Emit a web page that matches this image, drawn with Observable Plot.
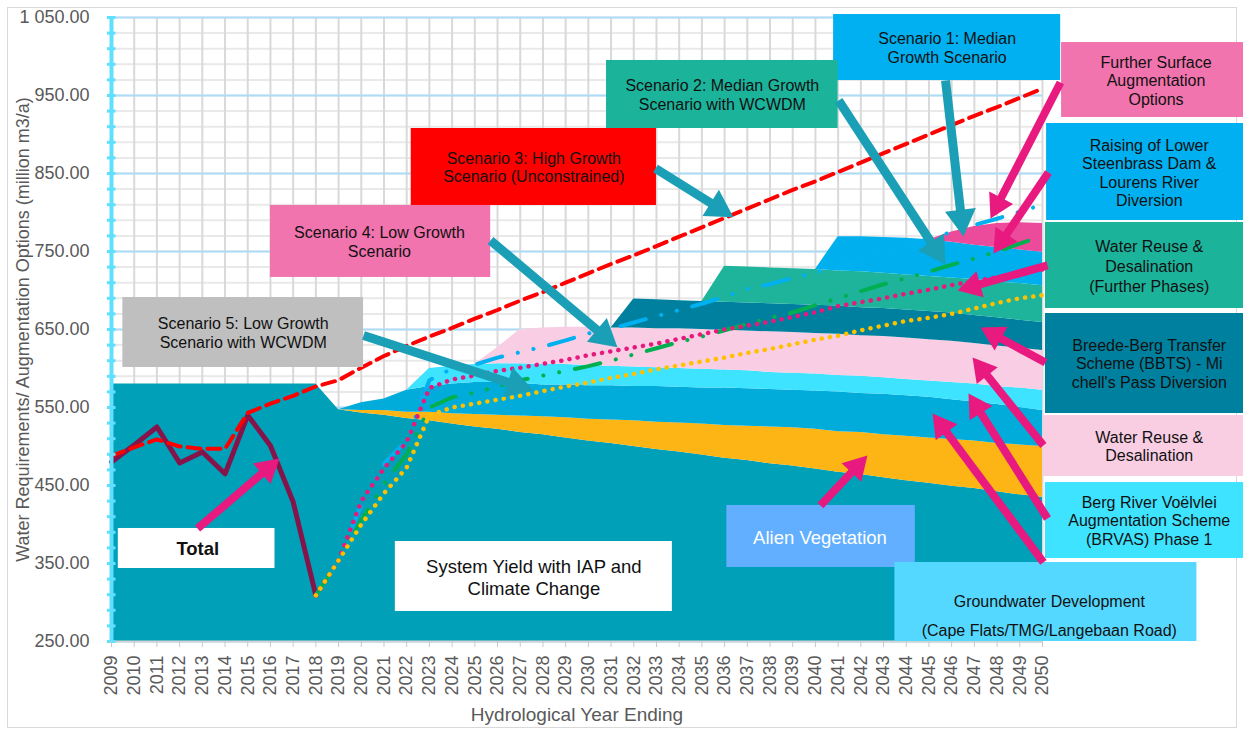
<!DOCTYPE html>
<html><head><meta charset="utf-8">
<script src="https://cdn.jsdelivr.net/npm/d3@7"></script>
<script src="https://cdn.jsdelivr.net/npm/@observablehq/plot@0.6"></script>
<style>
html,body{margin:0;padding:0;background:#fff;}
#wrap{position:relative;width:1243px;height:734px;overflow:hidden;}
#border{position:absolute;left:7px;top:7px;width:1228px;height:719px;border:1px solid #d9d9d9;}
#chart{position:absolute;left:0;top:0;}
</style></head>
<body><div id="wrap"><div id="border"></div><div id="chart"></div></div>
<script>
// ---------- DATA ----------
const years = [2009,2010,2011,2012,2013,2014,2015,2016,2017,2018,2019,2020,2021,2022,2023,2024,2025,2026,2027,2028,2029,2030,2031,2032,2033,2034,2035,2036,2037,2038,2039,2040,2041,2042,2043,2044,2045,2046,2047,2048,2049,2050];

const layerNames = [
  "System Yield with IAP and Climate Change",
  "Alien Vegetation",
  "Groundwater Development",
  "Berg River Voëlvlei Augmentation Scheme (BRVAS) Phase 1",
  "Water Reuse & Desalination",
  "Breede-Berg Transfer Scheme (BBTS)",
  "Water Reuse & Desalination (Further Phases)",
  "Raising of Lower Steenbrass Dam & Lourens River Diversion",
  "Further Surface Augmentation Options"
];
const layerColors = ["#00A0B8","#FDB515","#02ACDA","#3DE3FF","#F9CDE3","#00809F","#1EB39B","#00B0EE","#EC4A9A"];

// stacked layer thicknesses, 2009..2050
const systemYield    = [580,580,580,580,580,580,580,580,580,580, 547,543,540,536,533,529,525,522,518,515,511,507,504,500,496,493,489,485,482,478,475,471,467,464,460,456,453,449,446,442,438,435];
const alienVegetation= [0,0,0,0,0,0,0,0,0,0, 0,3,6,8,11,13,16,18,21,23,26,28,30,33,35,37,40,42,44,47,49,51,52,54,55,57,58,60,61,62,64,65];
const groundwater    = [0,0,0,0,0,0,0,0,0,0, 0,10,15,28,33,38,41,42,42,41,42,43,44,44,46,46,46,48,48,48,48,49,51,50,52,52,52,51,50,50,48,46];
const brvas          = [0,0,0,0,0,0,0,0,0,0, 0,0,0,0,23,23,23,24,25,26,26,26,25,25,24,24,24,23,23,22,22,22,21,22,21,21,21,22,23,23,25,26];
const reuseDesal     = [0,0,0,0,0,0,0,0,0,0, 0,0,0,0,0,0,0,21,44,47,48,49,49,50,50,51,51,51,51,52,52,52,53,52,53,53,53,53,52,52,51,51];
const bbts           = [0,0,0,0,0,0,0,0,0,0, 0,0,0,0,0,0,0,0,0,0,0,0,0,37,37,36,36,36,36,36,36,36,36,36,36,36,36,36,36,36,36,36];
const reuseFurther   = [0,0,0,0,0,0,0,0,0,0, 0,0,0,0,0,0,0,0,0,0,0,0,0,0,0,0,0,46,46,46,46,46,45,46,45,45,45,45,46,46,47,47];
const steenbras      = [0,0,0,0,0,0,0,0,0,0, 0,0,0,0,0,0,0,0,0,0,0,0,0,0,0,0,0,0,0,0,0,0,44,45,46,47,47,46,44,44,43,43];
const furtherSurface = [0,0,0,0,0,0,0,0,0,0, 0,0,0,0,0,0,0,0,0,0,0,0,0,0,0,0,0,0,0,0,0,0,0,0,0,0,0,13,24,31,35,37];
const layerValues = [systemYield, alienVegetation, groundwater, brvas, reuseDesal, bbts, reuseFurther, steenbras, furtherSurface];

// lines
const totalStart = 2009;
const totalValues = [480,502,525,479,493,465,540,501,429,309];
const scenario3Start = 2009; // High Growth (Unconstrained)
const scenario3 = [488,499,509,500,497,497,543,555,565,577,585,601,616,629,641,652,664,675,687,698,710,722,734,745,757,769,781,793,805,817,829,840,852,864,876,888,900,912,924,935,947,959];
const scenarioStart = 2018;
const scenario1 = [309,354,425,478,508,585,600,605,614,621,628,636,645,651,659,667,675,683,692,702,708,716,723,731,740,749,757,766,775,784,792,801,810];
const scenario2 = [309,354,405,452,490,550,563,569,577,585,591,597,603,610,618,626,634,641,649,657,665,672,681,690,699,708,716,724,733,741,750,760,770];
const scenario4 = [309,354,430,472,506,575,586,591,597,601,606,611,617,622,627,632,638,644,650,655,660,666,672,680,685,690,696,701,707,712,717,722,727];
const scenario5 = [309,354,400,440,473,540,550,555,560,565,571,577,582,588,593,599,604,609,614,620,625,631,637,642,649,655,661,665,670,677,684,690,694];

const yTicks = [250,350,450,550,650,750,850,950,1050];
const yTitle = "Water Requirements/ Augmentation Options (million m3/a)";
const xTitle = "Hydrological Year Ending";

// annotation boxes (data coordinates: year / million m3/a)
const annotBoxes = [
  {text:"Scenario 1: Median\nGrowth Scenario", x1:2040.8, x2:2050.8, y1:969.2, y2:1053.8, tx:2045.8, ty:1011.5, bg:"#00B0F0"},
  {text:"Scenario 2: Median Growth\nScenario with WCWDM", x1:2030.8, x2:2041.0, y1:907.7, y2:994.9, tx:2035.9, ty:951.3, bg:"#1CB39B"},
  {text:"Scenario 3: High Growth\nScenario (Unconstrained)", x1:2022.2, x2:2033.0, y1:809, y2:907.7, tx:2027.6, ty:858.3, bg:"#FF0000"},
  {text:"Scenario 4: Low Growth\nScenario", x1:2016.0, x2:2025.7, y1:716.7, y2:809, tx:2020.8, ty:762.8, bg:"#F274AE"},
  {text:"Scenario 5: Low Growth\nScenario with WCWDM", x1:2009.5, x2:2020.1, y1:601.3, y2:691, tx:2014.8, ty:646.2, bg:"#BFBFBF"},
  {text:"Total", x1:2009.3, x2:2016.2, y1:343.6, y2:394.9, tx:2012.8, ty:369.2, bg:"#FFFFFF", size:18.5, weight:"bold"},
  {text:"System Yield with IAP and\nClimate Change", x1:2021.5, x2:2033.7, y1:288.5, y2:378.2, tx:2027.6, ty:332.5, bg:"#FFFFFF", size:18.5, lh:1.2},
  {text:"Alien Vegetation", x1:2036.1, x2:2044.4, y1:344.9, y2:424.4, tx:2040.2, ty:383.5, bg:"#62AFFF", fg:"#FFFFFF", size:18.5},
  {text:"Groundwater Development\n(Cape Flats/TMG/Langebaan Road)", x1:2043.5, x2:2056.8, y1:250, y2:351.3, tx:2050.3, ty:287.8, bg:"#55D8FF", size:16, lh:1.8},
  {text:"Further Surface\nAugmentation\nOptions", x1:2050.84, x2:2058.9, y1:921.8, y2:1017.9, tx:2055.0, ty:969.2, bg:"#F274AE"},
  {text:"Raising of Lower\nSteenbrass Dam &\nLourens River\nDiversion", x1:2050.18, x2:2058.9, y1:789.7, y2:914.1, tx:2054.7, ty:851.3, bg:"#00B0F0"},
  {text:"Water Reuse &\nDesalination\n(Further Phases)", x1:2050.13, x2:2058.9, y1:676.9, y2:787.2, tx:2054.7, ty:732.1, bg:"#1CB39B", lh:1.25},
  {text:"Breede-Berg Transfer\nScheme (BBTS) - Mi\nchell's Pass Diversion", x1:2050.13, x2:2058.9, y1:542.3, y2:670.5, tx:2054.7, ty:606.4, bg:"#00809F"},
  {text:"Water Reuse &\nDesalination", x1:2050.04, x2:2058.9, y1:461.5, y2:539.7, tx:2054.7, ty:500.6, bg:"#F9CEE3"},
  {text:"Berg River Voëlvlei\nAugmentation Scheme\n(BRVAS) Phase 1", x1:2050.13, x2:2058.9, y1:356.4, y2:453.8, tx:2054.7, ty:405.1, bg:"#3DE3FF"}
];

// arrows (from -> tip), data coordinates
const tealArrows = [
  {x1:2045.73, y1:969.2, x2:2046.52, y2:769.2},
  {x1:2041.02, y1:943.6, x2:2045.73, y2:733.3},
  {x1:2032.96, y1:856.4, x2:2036.39, y2:794.0},
  {x1:2025.69, y1:764.1, x2:2031.28, y2:627.3},
  {x1:2020.10, y1:642.3, x2:2027.58, y2:571.8}
];
const pinkArrows = [
  {x1:2050.79, y1:966.7, x2:2047.71, y2:792.3},
  {x1:2050.26, y1:851.3, x2:2047.84, y2:747.4},
  {x1:2050.22, y1:732.1, x2:2046.26, y2:700.0},
  {x1:2050.13, y1:607.7, x2:2047.27, y2:652.6},
  {x1:2050.04, y1:501.3, x2:2046.92, y2:614.1},
  {x1:2050.22, y1:407.7, x2:2046.74, y2:568.0},
  {x1:2050.04, y1:351.3, x2:2045.16, y2:542.3},
  {x1:2040.22, y1:424.4, x2:2042.29, y2:488.5},
  {x1:2012.79, y1:394.9, x2:2016.40, y2:484.6}
];

// ---------- LAYOUT ----------
const W = 1243, H = 734, ML = 111, MR = 201, MT = 17, MB = 93;
const FONT = "'Liberation Sans', Arial, Helvetica, sans-serif";
const GREY = "#595959";

const stackData = layerNames.flatMap((name, i) => years.map((yr, j) => ({year: yr, layer: name, value: layerValues[i][j]})));
const series = (start, vals) => vals.map((v, i) => ({year: start + i, value: v}));

const minorVals = d3.range(250, 1051, 20);
const fmt = d3.formatLocale({decimal: ".", thousands: " ", grouping: [3], currency: ["", ""]}).format(",.2f");

// scales for arrow-head geometry
const sx = Plot.scale({x: {type: "linear", domain: [2009, 2050], range: [ML, W - MR]}});
const sy = Plot.scale({y: {type: "linear", domain: [250, 1050], range: [H - MB, MT]}});
const invX = px => 2009 + (px - ML) / (W - MR - ML) * 41;
const invY = py => 250 + (H - MB - py) / (H - MB - MT) * 800;
function withHead(a, r) {
  const X1 = sx.apply(a.x1), Y1 = sy.apply(a.y1), X2 = sx.apply(a.x2), Y2 = sy.apply(a.y2);
  const dx = X2 - X1, dy = Y2 - Y1, L = Math.hypot(dx, dy);
  const yp = Math.sqrt(Math.PI * r * r / (3 * Math.sqrt(3)));
  const t = 2 * yp;
  return {...a, cx: invX(X2 - dx / L * t), cy: invY(Y2 - dy / L * t), angle: Math.atan2(dx, -dy) * 180 / Math.PI};
}
const TEAL = "#1A9FB6", PINK = "#E8197F";
const tealA = tealArrows.map(a => withHead(a, 11.5));
const pinkA = pinkArrows.map(a => withHead(a, 10));

const marks = [
  // grid
  Plot.ruleY(minorVals, {stroke: "#e9e9e9", strokeWidth: 2}),
  Plot.ruleX(years, {stroke: "#d9d9d9", strokeWidth: 2}),
  Plot.ruleY(yTicks, {stroke: "#addcf7", strokeWidth: 2}),
  // stacked areas
  Plot.areaY(stackData, {x: "year", y: "value", z: "layer", fill: "layer", clip: true}),
  // baseline
  Plot.ruleY([250], {stroke: "#d4d4d4", strokeWidth: 2}),
  // lines
  Plot.line(series(totalStart, totalValues), {x: "year", y: "value", stroke: "#85144B", strokeWidth: 5, strokeLinejoin: "round"}),
  Plot.line(series(scenario3Start, scenario3), {x: "year", y: "value", stroke: "#FF0000", strokeWidth: 4, strokeDasharray: "13,7"}),
  Plot.line(series(scenarioStart, scenario1), {x: "year", y: "value", stroke: "#00B0F0", strokeWidth: 4, strokeDasharray: "26,16,0.1,16,0.1,16", strokeLinecap: "round"}),
  Plot.line(series(scenarioStart, scenario2), {x: "year", y: "value", stroke: "#00B050", strokeWidth: 4, strokeDasharray: "26,16,0.1,16,0.1,16", strokeLinecap: "round"}),
  Plot.line(series(scenarioStart, scenario4), {x: "year", y: "value", stroke: "#E6197D", strokeWidth: 4.5, strokeDasharray: "0.1,8.2", strokeLinecap: "round"}),
  Plot.line(series(scenarioStart, scenario5), {x: "year", y: "value", stroke: "#FFC000", strokeWidth: 4.5, strokeDasharray: "0.1,8.2", strokeLinecap: "round"}),
  // y axis line + minor ticks
  Plot.ruleX([2009], {stroke: "#5FE0FF", strokeWidth: 4}),
  Plot.ruleY(minorVals, {x1: 2008.82, x2: 2009.2, stroke: "#5FE0FF", strokeWidth: 3}),
  // axes
  Plot.axisY({ticks: yTicks, tickFormat: fmt, tickSize: 0, tickPadding: 22, fontSize: 18, fill: GREY, label: null}),
  Plot.axisX({ticks: years, tickFormat: d => String(d), tickRotate: -90, tickSize: 6, tickPadding: 8, fontSize: 18, fill: GREY, stroke: "#c8c8c8", label: null}),
  Plot.text([yTitle], {text: d => d, frameAnchor: "left", dx: -88, rotate: -90, textAnchor: "middle", lineAnchor: "middle", fontSize: 18, fill: GREY}),
  Plot.text([xTitle], {text: d => d, frameAnchor: "bottom", dy: 73, textAnchor: "middle", lineAnchor: "middle", fontSize: 19, fill: GREY}),
  // annotation boxes
  ...annotBoxes.map(b => Plot.rect([b], {x1: "x1", x2: "x2", y1: "y1", y2: "y2", fill: b.bg})),
  ...annotBoxes.map(b => Plot.text([b], {x: "tx", y: "ty", text: "text", fill: b.fg || "#111111", fontSize: b.size || 16, fontWeight: b.weight || "normal", lineHeight: b.lh || 1.15, textAnchor: "middle", lineAnchor: "middle"})),
  // arrows
  Plot.link(tealA, {x1: "x1", y1: "y1", x2: "cx", y2: "cy", stroke: TEAL, strokeWidth: 9}),
  Plot.dot(tealA, {x: "cx", y: "cy", symbol: "triangle", r: 11.5, fill: TEAL, stroke: "none", rotate: "angle"}),
  Plot.link(pinkA, {x1: "x1", y1: "y1", x2: "cx", y2: "cy", stroke: PINK, strokeWidth: 8}),
  Plot.dot(pinkA, {x: "cx", y: "cy", symbol: "triangle", r: 10, fill: PINK, stroke: "none", rotate: "angle"})
];

const chart = Plot.plot({
  width: W, height: H,
  marginLeft: ML, marginRight: MR, marginTop: MT, marginBottom: MB,
  x: {type: "linear", domain: [2009, 2050]},
  y: {type: "linear", domain: [250, 1050]},
  color: {domain: layerNames, range: layerColors},
  style: {fontFamily: FONT, background: "transparent", overflow: "visible"},
  marks
});
document.getElementById("chart").appendChild(chart);
</script>
</body></html>
